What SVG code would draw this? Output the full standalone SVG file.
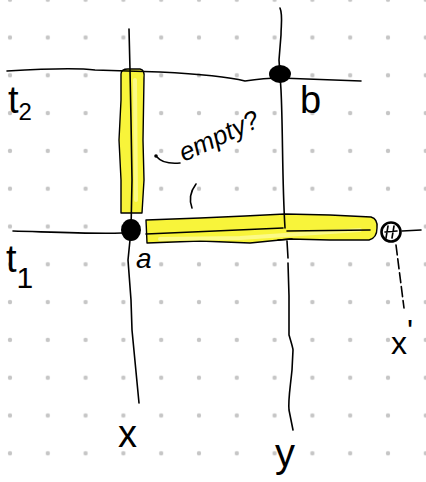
<svg xmlns="http://www.w3.org/2000/svg" width="426" height="482" viewBox="0 0 426 482">
<defs>
<pattern id="dots" x="-8.9" y="18.6" width="37.8" height="37.8" patternUnits="userSpaceOnUse">
<circle cx="18.9" cy="18.9" r="2.2" fill="#c6c6c6"/>
</pattern>
<style>
.ln{fill:none;stroke:#000;stroke-width:1.6;stroke-linecap:round;stroke-linejoin:round}
.hl{fill:#f8f43a;stroke:#000;stroke-width:1.4;stroke-linejoin:round}
.hl2{fill:none;stroke:#fdfb9a;stroke-width:4;stroke-linecap:round;opacity:0.8}
.lb{font-family:"Liberation Sans",Arial,sans-serif;fill:#000}
</style>
</defs>
<rect width="426" height="482" fill="#fff"/>
<rect width="426" height="482" fill="url(#dots)"/>

<g id="highlights">
<path class="hl" d="M121,74 Q121,69 128,69 L140,69 Q145,70 144,78 L143,140 L144,180 L142,213 L121,213 L121,180 L119,140 L121,100 Z"/>
<path class="hl2" d="M135,80 L136,200"/>
<path class="hl" d="M146,220 L200,218 L245,216 L285,214 L330,215 L371,217 Q378,219 377,228 Q377,238 369,240 L330,240 L290,239 L250,243 L200,241 L147,243 Z"/>
<path class="hl2" d="M160,239 L240,238 L300,234 L360,230"/>
</g>

<g id="connectors">
<path id="line-t2" class="ln" d="M7,71 C40,69 80,68 95,70 L160,72 C200,74 225,76 245,81 C258,79 268,78 280,78 L361,81"/>
<path id="line-t1-left" class="ln" d="M13,231 C50,232 90,234 122,233"/>
<path id="line-t1-right" class="ln" d="M146,234 C190,232 240,230 283,228 M287,231 L370,230 M402,231 L421,230"/>
<path id="line-x" class="ln" d="M129,29 L130,70 L131,120 L132,180 L131,230 L128,260 L131,300 L132,330 L139,403"/>
<path id="line-y" class="ln" d="M280,8 C283,15 281,25 281,35 L279,60 L281,90 C283,130 282,180 285,228 M278,240 L292,239 M287,241 L288,258 M288,263 L289,296 L289,335 C292,345 293,348 293,350 L292,370 C290,390 288,400 289,410 L293,430"/>
<path id="line-xprime" class="ln" d="M396,245 L404,308" stroke-dasharray="10 4"/>
<path id="mark-pointer" class="ln" d="M157,157 C161,162 168,164 180,163"/>
<circle cx="156" cy="156" r="1.8" fill="#000"/>
<path id="mark-paren" class="ln" d="M196,184 C190,192 189,200 192,208"/>
</g>

<g id="node-a">
<ellipse cx="131" cy="230" rx="10" ry="11" fill="#000"/>
<text class="lb" x="136" y="268" font-size="28" font-style="italic">a</text>
</g>
<g id="node-b">
<ellipse cx="280" cy="74" rx="11" ry="9" fill="#000"/>
<text class="lb" x="300" y="113" font-size="38">b</text>
</g>
<g id="node-open">
<circle cx="391" cy="232" r="9.5" fill="#fff" stroke="#000" stroke-width="2.6"/>
<path class="ln" d="M388,226 L386,238 M394,226 L392,238 M385,232 L397,231"/>
</g>
<g id="labels">
<text class="lb" x="8" y="113" font-size="38">t<tspan font-size="24" dy="7">2</tspan></text>
<text class="lb" x="6" y="272" font-size="38">t<tspan font-size="30" dy="16">1</tspan></text>
<text class="lb" x="184" y="162" font-size="26" font-style="italic" transform="rotate(-25 184 162)">empty?</text>
<text class="lb" x="118" y="447" font-size="38">x</text>
<text class="lb" x="275" y="467" font-size="40">y</text>
<text class="lb" x="391" y="354" font-size="32">x<tspan dy="-12">'</tspan></text>
</g>
</svg>
